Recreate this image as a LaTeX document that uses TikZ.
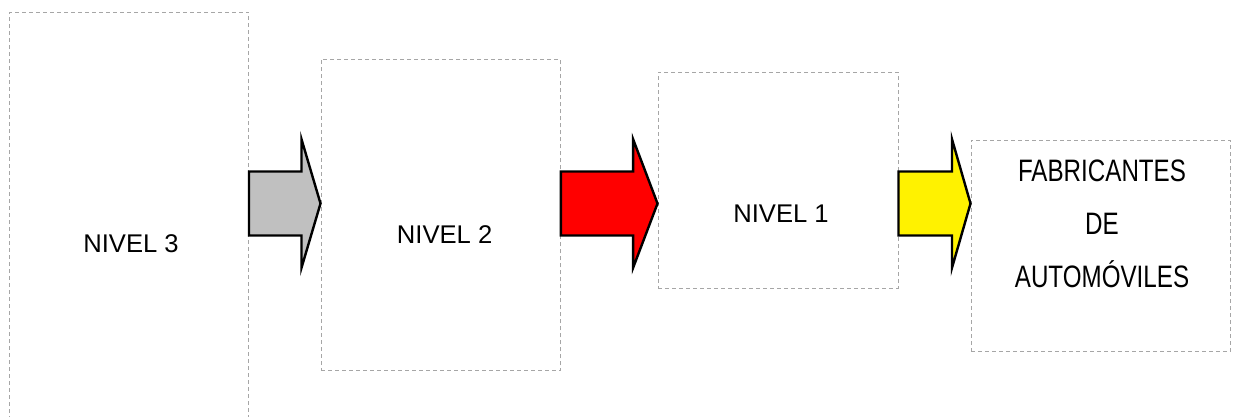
\documentclass[tikz,border=0pt]{standalone}
\usepackage{fontspec}
\setmainfont{Liberation Sans}
\usetikzlibrary{positioning,calc}

\definecolor{gris}{HTML}{C0C0C0}
\definecolor{borde}{HTML}{A6A6A6}

\tikzset{
    caja/.style={draw=borde, line width=1pt, dash pattern=on 4pt off 3pt},
    texto/.style={font=\fontsize{25.6}{53}\selectfont, align=center},
    flecha/.style={draw=black, line width=2.4pt, line join=miter, to path={
        let \p1=(\tikztostart), \p2=(\tikztotarget) in
        (\x1,\y1+32pt) -- (\x2-#1,\y1+32pt) -- (\x2-#1,\y1+64.3pt) -- (\x2,\y1)
        -- (\x2-#1,\y1-64.3pt) -- (\x2-#1,\y1-32pt) -- (\x1,\y1-32pt) -- cycle}}
}

\begin{document}
\begin{tikzpicture}[x=1pt,y=-1pt]
    \useasboundingbox (0,0) rectangle (1236,416);
    \coordinate (eje) at (0,203.5);

    \node[caja, minimum width=239, minimum height=462] (niv3) at (129,243) {};
    \node[caja, minimum width=239.3, minimum height=311.5] [right=71.5pt of niv3, yshift=27.8pt] (niv2) {};
    \node[caja, minimum width=240, minimum height=216] [right=96.7pt of niv2, yshift=35.2pt] (niv1) {};
    \node[caja, minimum width=259, minimum height=211.7] [right=72pt of niv1, yshift=-65.9pt] (fab) {};

    \node[texto] (t_3) at ([xshift=2pt,yshift=-1pt]niv3.center) {NIVEL 3};
    \node[texto] (t_2) at ([xshift=4pt,yshift=-19pt]niv2.center) {NIVEL 2};
    \node[texto] (t_1) at ([xshift=3pt,yshift=-34pt]niv1.center) {NIVEL 1};
    \node[texto, font=\fontsize{31}{53}\selectfont, xscale=0.78, transform shape]
        (t_f) at ([xshift=1.5pt,yshift=22pt]fab.center) {FABRICANTES\\DE\\AUTOMÓVILES};

    \draw[flecha=19pt, fill=gris] (niv3.east |- eje) to (niv2.west |- eje);
    \draw[flecha=24.4pt, fill=red] (niv2.east |- eje) to (niv1.west |- eje);
    \draw[flecha=18.5pt, fill=yellow] (niv1.east |- eje) to (fab.west |- eje);
\end{tikzpicture}
\end{document}
